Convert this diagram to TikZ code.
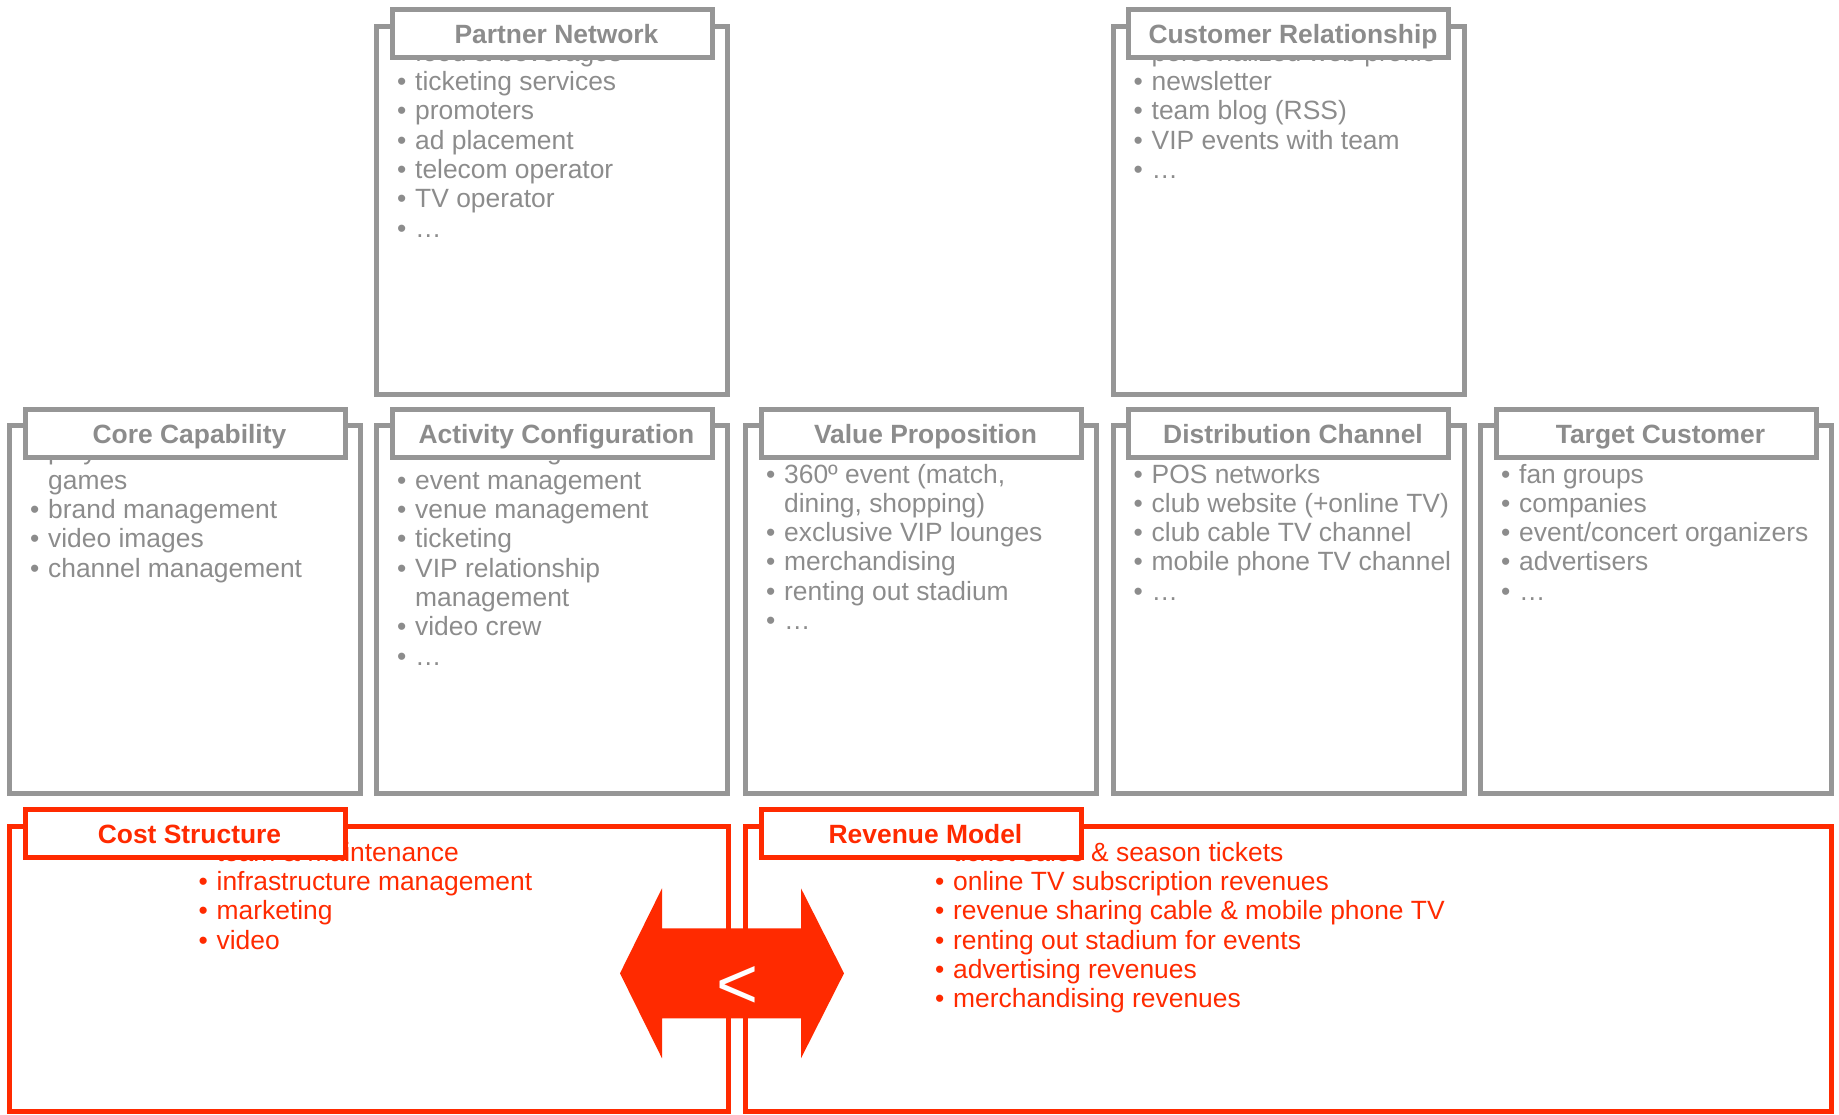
\documentclass[tikz,border=0pt]{standalone}
\usepackage{fontspec}
\setmainfont{Liberation Sans}
\definecolor{lgrey}{RGB}{150,150,150}
\definecolor{tgrey}{RGB}{140,140,140}
\definecolor{bmred}{RGB}{255,42,0}
\newcommand\blt{\makebox[18pt][l]{•}}
\newcommand\cnt{\hspace*{18pt}}
\newcommand\tsh{\hspace*{9pt}}
\begin{document}
\begin{tikzpicture}[x=1pt,y=-1pt,
  outerbox/.style={draw=lgrey, line width=5pt, inner sep=0pt, outer sep=0pt},
  titlebox/.style={draw=lgrey, fill=white, line width=5pt, minimum width=320pt,
    minimum height=48pt, inner sep=0pt, text height=19pt, text depth=0pt,
    font=\bfseries\fontsize{26.4}{29.3}\selectfont, text=tgrey},
  body/.style={anchor=base west, inner sep=0pt, text=tgrey,
    font=\fontsize{26.4}{29.3}\selectfont},
  redbox/.style={outerbox, draw=bmred},
  redtitle/.style={titlebox, draw=bmred, text=bmred},
  redbody/.style={body, text=bmred}]
\useasboundingbox (0,0) rectangle (1839,1114);

% outer boxes
\node[outerbox, minimum width=351pt, minimum height=367.5pt] (pnbox) at (552,210.25) {};
\node[outerbox, minimum width=351pt, minimum height=367.5pt] (crbox) at (1288.5,210.25) {};
\node[outerbox, minimum width=351pt, minimum height=368pt] (ccbox) at (185,609.5) {};
\node[outerbox, minimum width=351pt, minimum height=368pt] (acbox) at (552,609.5) {};
\node[outerbox, minimum width=351pt, minimum height=368pt] (vpbox) at (921,609.5) {};
\node[outerbox, minimum width=351pt, minimum height=368pt] (dcbox) at (1288.5,609.5) {};
\node[outerbox, minimum width=351pt, minimum height=368pt] (tcbox) at (1656,609.5) {};
\node[redbox, minimum width=719pt, minimum height=285.5pt] (csbox) at (369,968.75) {};
\node[redbox, minimum width=1086pt, minimum height=285.5pt] (rmbox) at (1288.5,968.75) {};

% body texts
\node[body] (pntext) at (397,61.2) {\begin{tabular}[t]{@{}l@{}}
\blt food \& beverages\\ \blt ticketing services\\ \blt promoters\\ \blt ad placement\\
\blt telecom operator\\ \blt TV operator\\ \blt …\end{tabular}};
\node[body] (crtext) at (1133.5,61.2) {\begin{tabular}[t]{@{}l@{}}
\blt personalized web profile\\ \blt newsletter\\ \blt team blog (RSS)\\
\blt VIP events with team\\ \blt …\end{tabular}};
\node[body] (cctext) at (30,459.9) {\begin{tabular}[t]{@{}l@{}}
\blt play attractive \& win\\ \cnt games\\ \blt brand management\\ \blt video images\\
\blt channel management\end{tabular}};
\node[body] (actext) at (397,459.9) {\begin{tabular}[t]{@{}l@{}}
\blt team management\\ \blt event management\\ \blt venue management\\ \blt ticketing\\
\blt VIP relationship\\ \cnt management\\ \blt video crew\\ \blt …\end{tabular}};
\node[body] (vptext) at (766,483) {\begin{tabular}[t]{@{}l@{}}
\blt 360º event (match,\\ \cnt dining, shopping)\\ \blt exclusive VIP lounges\\
\blt merchandising\\ \blt renting out stadium\\ \blt …\end{tabular}};
\node[body] (dctext) at (1133.5,483) {\begin{tabular}[t]{@{}l@{}}
\blt POS networks\\ \blt club website (+online TV)\\ \blt club cable TV channel\\
\blt mobile phone TV channel\\ \blt …\end{tabular}};
\node[body] (tctext) at (1501,483) {\begin{tabular}[t]{@{}l@{}}
\blt fan groups\\ \blt companies\\ \blt event/concert organizers\\ \blt advertisers\\
\blt …\end{tabular}};
\node[redbody] (cstext) at (198.5,861.2) {\begin{tabular}[t]{@{}l@{}}
\blt team \& maintenance\\ \blt infrastructure management\\ \blt marketing\\
\blt video\end{tabular}};
\node[redbody] (rmtext) at (935,861.2) {\begin{tabular}[t]{@{}l@{}}
\blt ticket sales \& season tickets\\ \blt online TV subscription revenues\\
\blt revenue sharing cable \& mobile phone TV\\ \blt renting out stadium for events\\
\blt advertising revenues\\ \blt merchandising revenues\end{tabular}};

% title boxes
\node[titlebox] (pn) at (552,33.5) {\tsh Partner Network};
\node[titlebox] (cr) at (1288.5,33.5) {\tsh Customer Relationship};
\node[titlebox] (cc) at (185,433.5) {\tsh Core Capability};
\node[titlebox] (ac) at (552,433.5) {\tsh Activity Configuration};
\node[titlebox] (vp) at (921,433.5) {\tsh Value Proposition};
\node[titlebox] (dc) at (1288.5,433.5) {\tsh Distribution Channel};
\node[titlebox] (tc) at (1656,433.5) {\tsh Target Customer};
\node[redtitle] (cs) at (185,833.5) {\tsh Cost Structure};
\node[redtitle] (rm) at (921,833.5) {\tsh Revenue Model};

% double arrow
\fill[bmred] (620,973.3) -- (662,888.3) -- (662,928.3) -- (801,928.3) -- (801,888.3)
  -- (844,973.3) -- (801,1058.3) -- (801,1018.3) -- (662,1018.3) -- (662,1058.3) -- cycle;
\node[text=white, inner sep=0pt, anchor=base, font=\fontsize{72}{80}\selectfont]
  (arrowtxt) at (737.5,1008) {<};
\end{tikzpicture}
\end{document}
